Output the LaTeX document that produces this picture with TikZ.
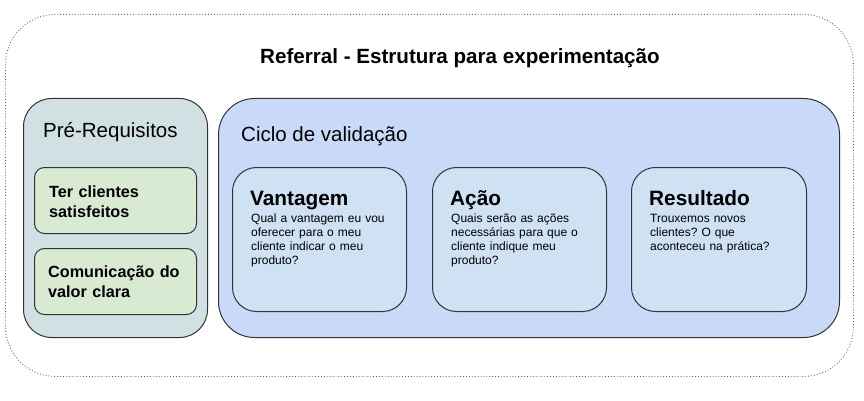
\documentclass[tikz,border=0pt]{standalone}
\usepackage{fontspec}
\setmainfont{Liberation Sans}
\frenchspacing
\definecolor{cyanlt}{HTML}{D0E0E3}
\definecolor{cornlt}{HTML}{C9DAF8}
\definecolor{bluelt}{HTML}{CFE2F3}
\definecolor{greenlt}{HTML}{D9EAD3}
\definecolor{edge}{HTML}{333333}
\begin{document}
\begin{tikzpicture}[x=1pt,y=-1pt,
  box/.style={draw=edge, line width=1pt, anchor=north west, inner sep=0pt},
  txt/.style={anchor=base west, inner sep=0pt, align=left},
  bodytxt/.style={txt, text width=150pt, font=\fontsize{12}{14.2}\selectfont},
  headtxt/.style={txt, font=\fontsize{20.8}{24}\selectfont\bfseries},
  greentxt/.style={txt, text width=160pt, font=\fontsize{16.2}{20}\selectfont\bfseries},
  grouptxt/.style={txt, font=\fontsize{20.5}{24}\selectfont}]
\useasboundingbox (0,0) rectangle (864,401);
\node[draw=black!60, dash pattern=on 0.9pt off 2pt, line width=0.9pt, rounded corners=50pt, anchor=north west, minimum width=848pt, minimum height=362pt, inner sep=0pt] (outer) at (5,14) {};
\node[anchor=base, inner sep=0pt, font=\fontsize{20.6}{24}\selectfont\bfseries] (title) at (460,64) {Referral - Estrutura para experimentação};
% Pre-requisitos
\node[box, fill=cyanlt, rounded corners=28pt, minimum width=184pt, minimum height=239pt] (pre) at (23,98) {};
\node[grouptxt] (pretitle) at (43,138) {Pré-Requisitos};
\node[box, fill=greenlt, rounded corners=10pt, minimum width=162pt, minimum height=66pt] (ter) at (34,167) {};
\node[greentxt] (tertxt) at (49,197) {Ter clientes\\satisfeitos};
\node[box, fill=greenlt, rounded corners=10pt, minimum width=162pt, minimum height=66pt] (com) at (34,248) {};
\node[greentxt] (comtxt) at (48,277) {Comunicação do\\valor clara};
% Ciclo
\node[box, fill=cornlt, rounded corners=36pt, minimum width=621pt, minimum height=239pt] (ciclo) at (218,98) {};
\node[grouptxt] (ciclotitle) at (241,141) {Ciclo de validação};
\node[box, fill=bluelt, rounded corners=24pt, minimum width=174pt, minimum height=144pt] (van) at (232,167) {};
\node[headtxt] (vanh) at (250,205) {Vantagem};
\node[bodytxt] (vanb) at (251,222) {Qual a vantagem eu vou\\oferecer para o meu\\cliente indicar o meu\\produto?};
\node[box, fill=bluelt, rounded corners=24pt, minimum width=174pt, minimum height=144pt] (aca) at (432,167) {};
\node[headtxt] (acah) at (450,205) {Ação};
\node[bodytxt] (acab) at (451,222) {Quais serão as ações\\necessárias para que o\\cliente indique meu\\produto?};
\node[box, fill=bluelt, rounded corners=24pt, minimum width=175pt, minimum height=144pt] (res) at (631,167) {};
\node[headtxt] (resh) at (649,205) {Resultado};
\node[bodytxt] (resb) at (650,222) {Trouxemos novos\\clientes? O que\\aconteceu na prática?};
\end{tikzpicture}
\end{document}
